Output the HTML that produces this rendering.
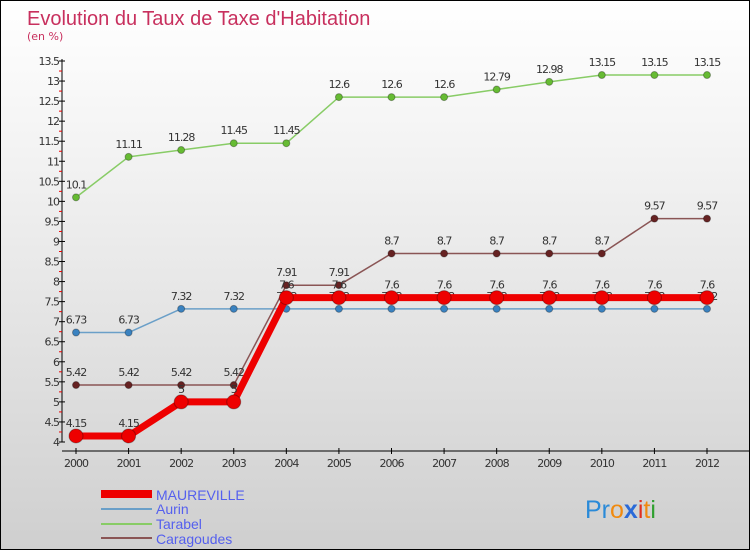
<!DOCTYPE html>
<html><head><meta charset="utf-8"><style>
body{margin:0}
#c{width:750px;height:550px;position:relative;box-sizing:border-box;border:1px solid #000;background:linear-gradient(#fff,#f2f2f2 30%,#cfcfcf);font-family:"DejaVu Sans","Liberation Sans",sans-serif;overflow:hidden}
svg text{font-family:"DejaVu Sans","Liberation Sans",sans-serif}
</style></head><body>
<div id="c">
<svg id="s" width="750" height="550">
<text x="26" y="24" font-size="20" fill="#c8305e" style="font-family:'Liberation Sans',sans-serif">Evolution du Taux de Taxe d'Habitation</text>
<text x="26" y="39" font-size="11" fill="#c8305e">(en %)</text>
<g id="g"></g>
<g>
<rect x="100" y="489" width="51" height="8" fill="#e00"/>
<text x="155" y="499" font-size="14" fill="#5560ee" style="font-family:'Liberation Sans',sans-serif">MAUREVILLE</text>
<line x1="100" y1="508" x2="151" y2="508" stroke="#6a9fc8" stroke-width="2"/>
<text x="155" y="513" font-size="14" fill="#5560ee" style="font-family:'Liberation Sans',sans-serif">Aurin</text>
<line x1="100" y1="523" x2="151" y2="523" stroke="#88cc66" stroke-width="2"/>
<text x="155" y="528" font-size="14" fill="#5560ee" style="font-family:'Liberation Sans',sans-serif">Tarabel</text>
<line x1="100" y1="537" x2="151" y2="537" stroke="#8a5555" stroke-width="2"/>
<text x="155" y="543" font-size="14" fill="#5560ee" style="font-family:'Liberation Sans',sans-serif">Caragoudes</text>
</g>
<text x="584" y="517" font-size="25" fill="#2a8ad8" style="font-family:'Liberation Sans',sans-serif">Pr<tspan fill="#f08a10">o</tspan><tspan fill="#2a6ad8" font-weight="bold">x</tspan><tspan fill="#e03020">i</tspan><tspan fill="#f08a10">t</tspan><tspan fill="#30a030">i</tspan></text>
</svg>
</div>
<script>
const years=[2000,2001,2002,2003,2004,2005,2006,2007,2008,2009,2010,2011,2012];
const yTicks=[4,4.5,5,5.5,6,6.5,7,7.5,8,8.5,9,9.5,10,10.5,11,11.5,12,12.5,13,13.5];
const maureville=[4.15,4.15,5,5,7.6,7.6,7.6,7.6,7.6,7.6,7.6,7.6,7.6];
const aurin=[6.73,6.73,7.32,7.32,7.32,7.32,7.32,7.32,7.32,7.32,7.32,7.32,7.32];
const tarabel=[10.1,11.11,11.28,11.45,11.45,12.6,12.6,12.6,12.79,12.98,13.15,13.15,13.15];
const caragoudes=[5.42,5.42,5.42,5.42,7.91,7.91,8.7,8.7,8.7,8.7,8.7,9.57,9.57];
const NS='http://www.w3.org/2000/svg',g=document.getElementById('g');
const X=i=>75+i*(706-75)/(years.length-1);
const Y=v=>441-(v-4)*(441-60)/9.5;
function mk(t,a,p){const e=document.createElementNS(NS,t);for(const k in a)e.setAttribute(k,a[k]);(p||g).appendChild(e);return e;}
let e=mk('line',{x1:61,y1:58,x2:61,y2:441,stroke:'#000'});


e=mk('line',{x1:61,y1:450,x2:750,y2:450,stroke:'#000'});


yTicks.forEach((v,i)=>{
 const y=Y(v);
 mk('line',{x1:58,y1:y,x2:64,y2:y,stroke:'#000'});
 if(i<yTicks.length-1)mk('line',{x1:58,y1:Y(v+0.25),x2:61,y2:Y(v+0.25),stroke:'#e00'});
 const t=mk('text',{x:58,y:y+4,'font-size':11,'text-anchor':'end',fill:'#333','letter-spacing':'-1'});t.textContent=String(v);
 
 
});
years.forEach((yr,i)=>{
 mk('line',{x1:X(i),y1:447,x2:X(i),y2:453,stroke:'#000'});
 const t=mk('text',{x:X(i),y:466,'font-size':11,'text-anchor':'middle',fill:'#333','letter-spacing':'-1'});t.textContent=yr;
 
 
});
function series(name,d,col,w,r,dot){
 const sg=mk('g',{});
 
 
 mk('polyline',{points:d.map((v,i)=>X(i)+','+Y(v)).join(' '),fill:'none',stroke:col,'stroke-width':w,'stroke-linejoin':'round'},sg);
 d.forEach((v,i)=>{
  const c=mk('circle',{cx:X(i),cy:Y(v),r:r,fill:dot,stroke:'rgba(0,0,0,0.3)'},sg);
  
  
  const t=mk('text',{x:X(i),y:Y(v)-9,'font-size':11,'text-anchor':'middle',fill:'#333','letter-spacing':'-1'},sg);t.textContent=String(v);
  
  
 });
}
series('aurin',aurin,'#6a9fc8',1.5,3.5,'#3a82c0');
series('tarabel',tarabel,'#88cc66',1.5,3.5,'#66bb33');
series('caragoudes',caragoudes,'#8a5555',1.5,3.5,'#662222');
series('maureville',maureville,'#ee0000',7,7,'#ee0000');
</script>
</body></html>
